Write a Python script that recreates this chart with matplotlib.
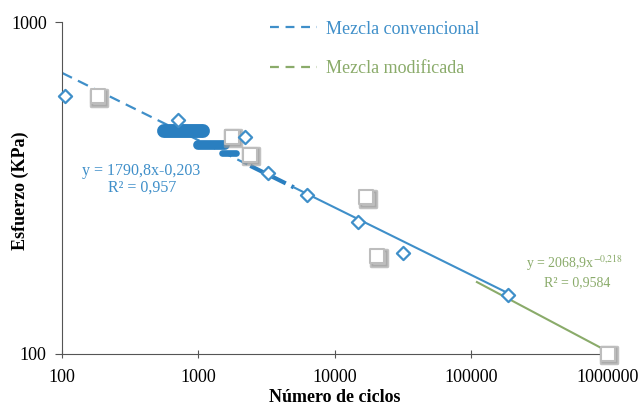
import matplotlib
matplotlib.use("Agg")
import matplotlib.pyplot as plt
from matplotlib.lines import Line2D
import numpy as np

plt.rcParams['font.family'] = ['Liberation Serif', 'DejaVu Serif']
plt.rcParams['mathtext.fontset'] = 'stix'

# Data
conv_N = [105, 705, 2200, 3240, 6200, 14700, 31700, 186000]
conv_S = [600, 507, 451, 351, 301, 250, 201, 151]

mod_N = [183, 1760, 2380, 17000, 20500, 1000000]
mod_S = [598, 451, 398, 297, 197, 100]

# thick blue band segments (N start, N end, S, width)
band_N0 = [558, 990, 1480]
band_N1 = [1080, 1560, 1900]
band_S = [470, 425, 404]
band_w = [10, 7, 4.8]

conv_a, conv_b = 1790.8, -0.203
mod_a, mod_b = 2068.9, -0.218

blue = '#3f8fc9'
band_blue = '#2a7fc0'
green = '#8aab6a'

fig = plt.figure(figsize=(6.39, 4.09), dpi=100)
ax = fig.add_axes([0.097, 0.1345, 0.854, 0.8115])
ax.set_xscale('log')
ax.set_yscale('log')
ax.set_xlim(100, 1e6)
ax.set_ylim(100, 1000)

# trend lines
Nd = np.logspace(2, np.log10(2400), 50)
ax.plot(Nd, conv_a * Nd ** conv_b, color=blue, lw=1.6, ls=(0, (5, 3)), zorder=2)
Nt = np.logspace(np.log10(2400), np.log10(5000), 30)
ax.plot(Nt, conv_a * Nt ** conv_b, color=band_blue, lw=3, ls=(0, (4, 1.5)), zorder=2)
Ns = np.logspace(np.log10(5000), np.log10(200000), 50)
ax.plot(Ns, conv_a * Ns ** conv_b, color=blue, lw=1.5, zorder=2)
Nm = np.logspace(np.log10(110000), 6, 50)
ax.plot(Nm, mod_a * Nm ** mod_b, color=green, lw=1.5, zorder=2)

# band
for n0, n1, s, w in zip(band_N0, band_N1, band_S, band_w):
    ax.plot([n0, n1], [s, s], color=band_blue, lw=w, solid_capstyle='round', zorder=3)

# markers (squares with a soft shadow)
ax.scatter(mod_N, mod_S, marker='s', s=120, facecolor='#9a9a9a', edgecolor='#9a9a9a',
           linewidths=2.5, zorder=4, alpha=0.6, clip_on=False,
           transform=ax.transData + matplotlib.transforms.ScaledTranslation(1.5/100, -1.5/100, fig.dpi_scale_trans))
ax.scatter(mod_N, mod_S, marker='s', s=110, facecolor='white', edgecolor='#bdbdbd',
           linewidths=1.5, zorder=4, clip_on=False)
ax.scatter(conv_N, conv_S, marker='D', s=45, facecolor='white', edgecolor=blue,
           linewidths=1.6, zorder=5, clip_on=False)

# spines & ticks
for s in ['top', 'right']:
    ax.spines[s].set_visible(False)
for s in ['left', 'bottom']:
    ax.spines[s].set_color('#555555')
ax.set_xticks([100, 1000, 10000, 100000, 1000000])
ax.set_xticklabels(['100', '1000', '10000', '100000', '1000000'])
ax.set_yticks([100, 1000])
ax.set_yticklabels(['100', '1000'])
ax.minorticks_off()
ax.tick_params(axis='x', direction='inout', length=6, color='#555555', labelsize=13, pad=8)
ax.tick_params(axis='y', direction='out', length=5, color='#555555', labelsize=13, pad=6)

ax.set_xlabel('Número de ciclos', fontsize=13, fontweight='bold', labelpad=2)
fig.text(20 / 639, 1 - 191 / 409, 'Esfuerzo (KPa)', fontsize=13, fontweight='bold',
         rotation=90, ha='center', va='center')

# equations
fig.text(141 / 639, 1 - 171 / 409, 'y = 1790,8x-0,203', color=blue, fontsize=11.5,
         ha='center', va='center')
fig.text(142 / 639, 1 - 188 / 409, 'R² = 0,957', color=blue, fontsize=11.5,
         ha='center', va='center')
fig.text(574 / 639, 1 - 263 / 409, 'y = 2068,9x$^{-0{,}218}$', color=green, fontsize=10,
         ha='center', va='center')
fig.text(577 / 639, 1 - 283 / 409, 'R² = 0,9584', color=green, fontsize=10,
         ha='center', va='center')

# legend
handles = [Line2D([], [], color=blue, lw=1.6, ls=(0, (4, 3))),
           Line2D([], [], color=green, lw=1.6, ls=(0, (4, 3)))]
leg = ax.legend(handles, ['Mezcla convencional', 'Mezcla modificada'],
                loc='upper left', bbox_to_anchor=(0.352, 1.053), frameon=False,
                fontsize=13, handlelength=2.6, labelspacing=1.25, handletextpad=0.5)
for t, c in zip(leg.get_texts(), [blue, green]):
    t.set_color(c)

fig.savefig('out.png', dpi=100)
